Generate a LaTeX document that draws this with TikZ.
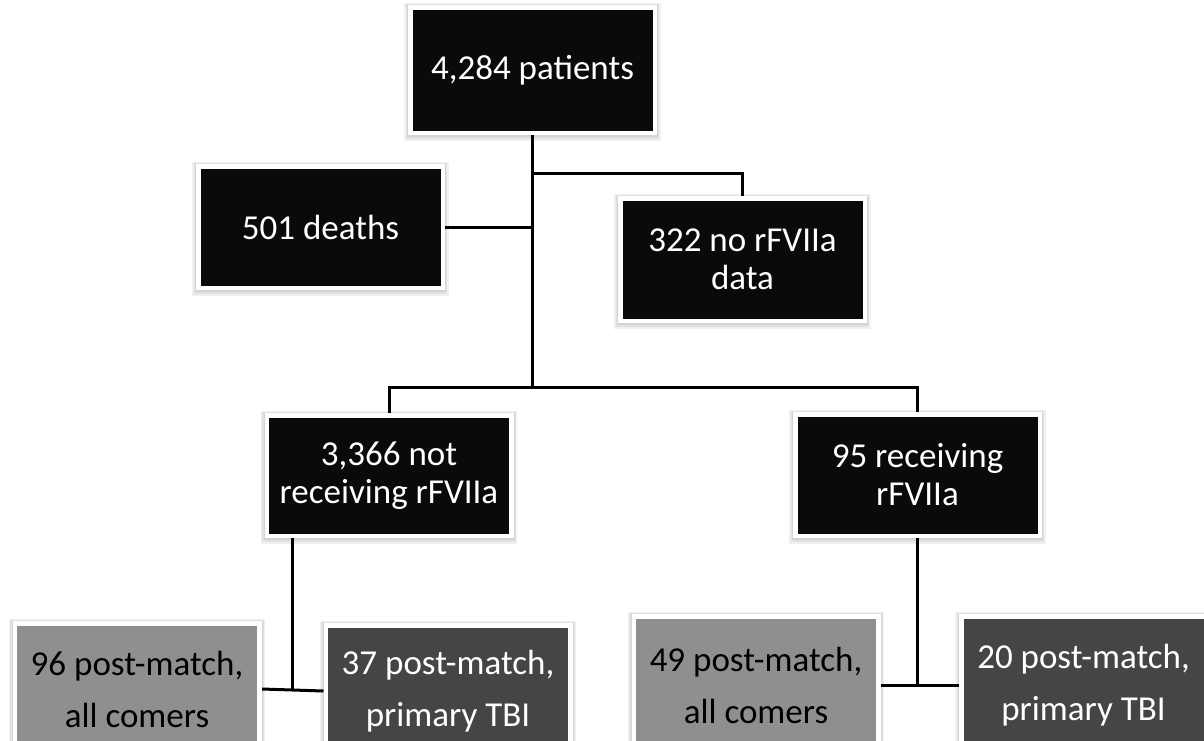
\documentclass[tikz,border=0pt]{standalone}
\usepackage{fontspec}
\setmainfont{Carlito}
\usetikzlibrary{shadows,backgrounds}
\begin{document}
\begin{tikzpicture}[x=1pt,y=-1pt,
  halo/.style={general shadow={draw=black, fill=black, draw opacity=#1, fill opacity=0,
      line width=12pt, shadow yshift=-2pt},
    general shadow={draw=black, fill=black, draw opacity=#1, fill opacity=0,
      line width=9pt, shadow yshift=-1.5pt},
    general shadow={draw=black, fill=black, draw opacity=#1, fill opacity=0,
      line width=6.5pt, shadow yshift=-1pt}},
  box/.style={draw=white, line width=4.5pt, fill=black!96, text=white,
    minimum width=244.5pt, inner sep=0pt, align=center,
    font=\fontsize{35}{38}\selectfont, halo=0.06},
  lightbox/.style={box, fill=black!44, text=black, font=\fontsize{35}{52}\selectfont},
  darkbox/.style={box, fill=black!73, text=white, font=\fontsize{35}{52}\selectfont},
  conn/.style={draw=black, line width=3pt}]
\useasboundingbox (0,0) rectangle (1204,740);
\clip (0,0) rectangle (1204,740);

\node[box, minimum height=125.5pt] (top) at (532.5,70) {4,284 patients};
\node[box, minimum height=121.5pt] (deaths) at (320.5,227) {501 deaths};
\node[box, minimum height=122.5pt] (nodata) at (742.5,259.5) {322 no rFVIIa\\data};
\node[box, minimum height=120.5pt] (notrec) at (389,475.5) {3,366 not\\receiving rFVIIa};
\node[box, minimum height=121.5pt] (rec) at (917.5,475) {95 receiving\\rFVIIa};
\node[lightbox, minimum height=131.5pt] (b96) at (137,689) {96 post-match,\\all comers};
\node[darkbox, minimum height=131.5pt] (b37) at (448,691) {37 post-match,\\primary TBI};
\node[lightbox, minimum height=137.5pt] (b49) at (756,685) {49 post-match,\\all comers};
\node[darkbox, minimum height=137.5pt] (b20) at (1083.5,685) {20 post-match,\\primary TBI};

\coordinate (split) at (532.5,387);
\coordinate (br1) at (532.5,173);
\coordinate (br2) at (532.5,227);
\coordinate (m1) at (292,691);
\coordinate (m2) at (917,685);

\begin{scope}[on background layer]
\fill[white] (0,0) rectangle (1204,740);
\draw[conn] (top.south) -- (split);
\draw[conn] (deaths.east) -- (br2);
\draw[conn] (br1) -| (nodata.north);
\draw[conn] (notrec.north) |- (split) -| (rec.north);
\draw[conn] (m1 |- notrec.south) -- (m1);
\draw[conn] (b96.east) -- (b37.west);
\draw[conn] (m2 |- rec.south) -- (m2);
\draw[conn] (b49.east) -- (b20.west);
\end{scope}
\end{tikzpicture}
\end{document}
